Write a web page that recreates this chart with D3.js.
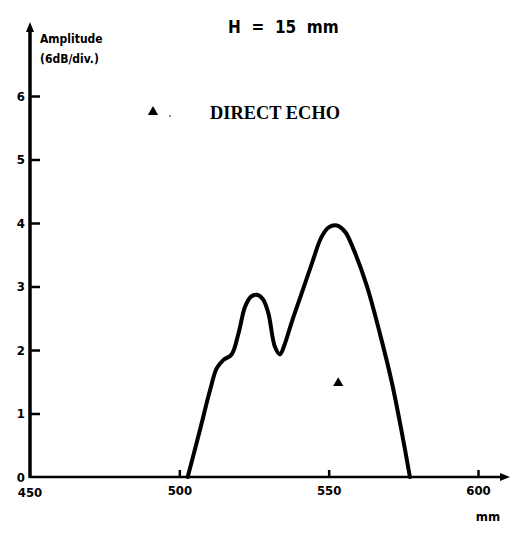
<!DOCTYPE html>
<html>
<head>
<meta charset="utf-8">
<script src="https://cdn.jsdelivr.net/npm/d3@7"></script>
<style>
  html, body { margin: 0; padding: 0; background: #fff; }
  svg { display: block; }
  text { fill: #000; }
</style>
</head>
<body>
<svg id="chart" width="519" height="536"></svg>
<script>
// ---- data ----
const xTicks = [450, 500, 550, 600];
const yTicks = [0, 1, 2, 3, 4, 5, 6];
const echoX = [502.8, 506.9, 510.3, 512.5, 514.7, 517.5, 519.8, 522.0, 524, 525.9, 528, 529.8, 532.0, 533.7, 535.2, 537.5, 541, 544.5, 547.5, 550, 552.7, 555.5, 558.2, 562.7, 567.2, 571.1, 574.5, 577.2];
const echoY = [0, 0.74, 1.37, 1.71, 1.84, 1.93, 2.26, 2.68, 2.84, 2.87, 2.8, 2.58, 2.05, 1.93, 2.08, 2.42, 2.9, 3.38, 3.77, 3.93, 3.96, 3.86, 3.6, 3.02, 2.25, 1.5, 0.7, 0];
const directEchoX = [553.2];
const directEchoY = [1.48];
const titleText = "H  =  15  mm";
const legendText = "DIRECT ECHO";
const yLabel = ["Amplitude", "(6dB/div.)"];
const xUnit = "mm";

// ---- scales ----
const svg = d3.select("#chart");
const x = d3.scaleLinear().domain([450, 600]).range([30, 478]);
const y = d3.scaleLinear().domain([0, 6]).range([477, 96]);
const font = "'Liberation Sans Narrow', 'DejaVu Sans Condensed', sans-serif";

// ---- axes ----
const xAxis = d3.axisBottom(x).tickValues(xTicks.slice(1)).tickSize(-7).tickPadding(18).tickFormat(d3.format("d"));
const gx = svg.append("g").attr("transform", `translate(0,${y(0)})`).call(xAxis);
gx.select(".domain").remove();
gx.selectAll(".tick line").attr("stroke", "#000").attr("stroke-width", 2.5);
gx.selectAll(".tick text").attr("font-family", font).attr("font-weight", "bold").attr("font-size", 13).attr("dy", "0");
// 450 label at origin
svg.append("text").attr("x", x(450)).attr("y", y(0) + 20).attr("text-anchor", "middle")
  .attr("font-family", font).attr("font-weight", "bold").attr("font-size", 13).text(xTicks[0]);

const yAxis = d3.axisLeft(y).tickValues(yTicks).tickSize(-10).tickPadding(5).tickFormat(d3.format("d"));
const gy = svg.append("g").attr("transform", `translate(${x(450)},0)`).call(yAxis);
gy.select(".domain").remove();
gy.selectAll(".tick line").attr("stroke", "#000").attr("stroke-width", 2.5).attr("x2", function(d){ return d === 0 ? 0 : 10; });
gy.selectAll(".tick text").attr("font-family", font).attr("font-weight", "bold").attr("font-size", 13);

// axis lines with arrows
svg.append("line").attr("x1", x(450)).attr("x2", x(450)).attr("y1", y(0) + 1).attr("y2", 30)
  .attr("stroke", "#000").attr("stroke-width", 3.5);
svg.append("path").attr("d", `M${x(450)-4},32 L${x(450)},22 L${x(450)+4},32 Z`).attr("fill", "#000");
svg.append("line").attr("x1", x(450)).attr("x2", 503).attr("y1", y(0)).attr("y2", y(0))
  .attr("stroke", "#000").attr("stroke-width", 2.5);
svg.append("path").attr("d", `M500,${y(0)-4} L510,${y(0)} L500,${y(0)+4} Z`).attr("fill", "#000");

// ---- curve ----
const pts = echoX.map((v, i) => [v, echoY[i]]);
const line = d3.line().x(d => x(d[0])).y(d => y(d[1])).curve(d3.curveCatmullRom.alpha(0.5));
svg.append("path").datum(pts).attr("d", line).attr("fill", "none").attr("stroke", "#000")
  .attr("stroke-width", 4).attr("stroke-linejoin", "round").attr("stroke-linecap", "round");

// ---- direct echo marker ----
const tri = d3.symbol().type(d3.symbolTriangle).size(45);
svg.selectAll(".de").data(directEchoX.map((v, i) => [v, directEchoY[i]])).enter().append("path")
  .attr("transform", d => `translate(${x(d[0])},${y(d[1])})`).attr("d", tri).attr("fill", "#000");

// ---- legend ----
svg.append("path").attr("transform", "translate(153,112)").attr("d", tri).attr("fill", "#000");
svg.append("circle").attr("cx", 170).attr("cy", 116).attr("r", 0.8).attr("fill", "#000");
svg.append("text").attr("x", 210).attr("y", 118.5).attr("font-family", "'Liberation Serif', serif")
  .attr("font-weight", "bold").attr("font-size", 18.5).attr("textLength", 130)
  .attr("lengthAdjust", "spacingAndGlyphs").text(legendText);

// ---- title ----
svg.append("text").attr("x", 228).attr("y", 33).attr("font-family", font).attr("font-weight", "bold")
  .attr("font-size", 17).attr("xml:space", "preserve").style("white-space", "pre").text(titleText);

// ---- y label ----
yLabel.forEach((t, i) => {
  svg.append("text").attr("x", 40).attr("y", 43 + i * 20).attr("font-family", font).attr("font-weight", "bold")
    .attr("font-size", 12).text(t);
});

// ---- x unit ----
svg.append("text").attr("x", 488).attr("y", 521).attr("text-anchor", "middle").attr("font-family", font)
  .attr("font-weight", "bold").attr("font-size", 13).text(xUnit);
</script>
</body>
</html>
